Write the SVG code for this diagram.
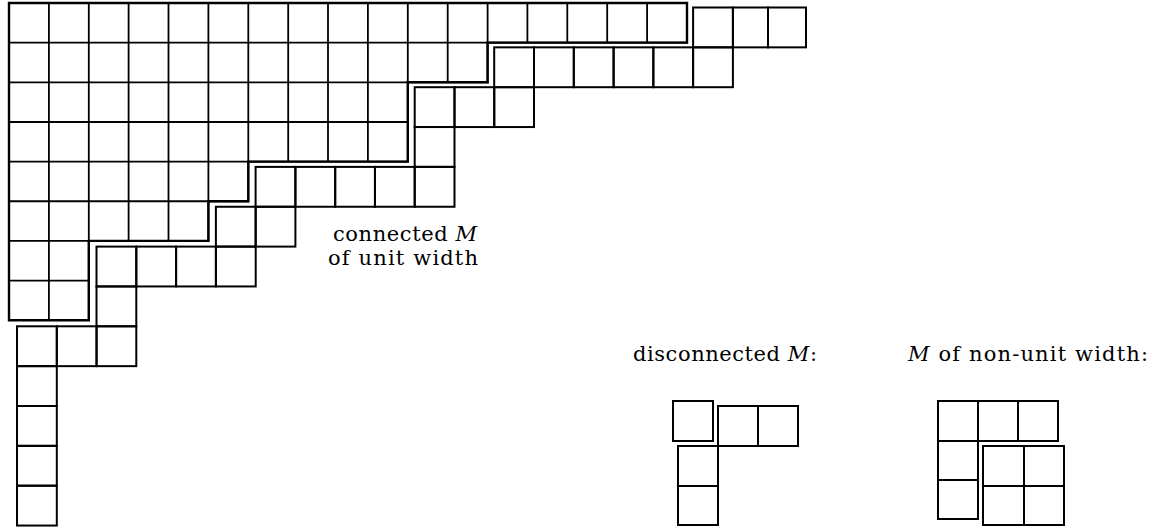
<svg xmlns="http://www.w3.org/2000/svg" width="1155" height="529" viewBox="0 0 1155 529">
<style>
.g{fill:none;stroke:#000;stroke-width:1.8;stroke-linecap:square}
.o{fill:none;stroke:#000;stroke-width:2.4;stroke-linejoin:miter}
.c{fill:none;stroke:#000;stroke-width:2}
.t{font-family:"DejaVu Serif","Liberation Serif",serif;font-size:21px;fill:#000}
</style>
<rect width="1155" height="529" fill="#fff"/>
<g id="shape-large">
<path class="g" d="M9 3H687M9 42.65H687M9 82.3H487.6M9 122H407.8M9 161.6H407.8M9 201.25H248.3M9 240.9H208.4M9 280.55H88.8M9 320.2H88.8
M9 3V320.2M48.9 3V320.2M88.8 3V320.2M128.6 3V240.9M168.5 3V240.9M208.4 3V240.9M248.3 3V201.25M288.2 3V161.6M328 3V161.6M367.9 3V161.6M407.8 3V161.6M447.7 3V82.3M487.6 3V82.3M527.4 3V42.65M567.3 3V42.65M607.2 3V42.65M647.1 3V42.65M687 3V42.65"/>
<path class="o" d="M9 3H687V42.65H487.6V82.3H407.8V161.6H248.3V201.25H208.4V240.9H88.8V320.2H9Z"/>
</g>
<g id="strip-unit-width">
<rect class="c" x="693.1" y="7.5" width="39.8" height="39.85"/>
<rect class="c" x="732.9" y="7.5" width="35.1" height="39.85"/>
<rect class="c" x="768" y="7.5" width="38" height="39.85"/>
<rect class="c" x="494.2" y="47.35" width="39.8" height="39.85"/>
<rect class="c" x="534" y="47.35" width="39.8" height="39.85"/>
<rect class="c" x="573.8" y="47.35" width="39.8" height="39.85"/>
<rect class="c" x="613.6" y="47.35" width="39.8" height="39.85"/>
<rect class="c" x="653.3" y="47.35" width="39.8" height="39.85"/>
<rect class="c" x="693.1" y="47.35" width="39.8" height="39.85"/>
<rect class="c" x="414.7" y="87.2" width="39.8" height="39.85"/>
<rect class="c" x="454.5" y="87.2" width="39.8" height="39.85"/>
<rect class="c" x="494.2" y="87.2" width="39.8" height="39.85"/>
<rect class="c" x="414.7" y="127" width="39.8" height="39.85"/>
<rect class="c" x="255.6" y="166.9" width="39.8" height="39.85"/>
<rect class="c" x="295.4" y="166.9" width="39.8" height="39.85"/>
<rect class="c" x="335.2" y="166.9" width="39.8" height="39.85"/>
<rect class="c" x="374.9" y="166.9" width="39.8" height="39.85"/>
<rect class="c" x="414.7" y="166.9" width="39.8" height="39.85"/>
<rect class="c" x="215.9" y="206.75" width="39.8" height="39.85"/>
<rect class="c" x="255.6" y="206.75" width="39.8" height="39.85"/>
<rect class="c" x="96.5" y="246.6" width="39.8" height="39.85"/>
<rect class="c" x="136.3" y="246.6" width="39.8" height="39.85"/>
<rect class="c" x="176.1" y="246.6" width="39.8" height="39.85"/>
<rect class="c" x="215.9" y="246.6" width="39.8" height="39.85"/>
<rect class="c" x="96.5" y="286.45" width="39.8" height="39.85"/>
<rect class="c" x="17" y="326.3" width="39.8" height="39.85"/>
<rect class="c" x="56.8" y="326.3" width="39.8" height="39.85"/>
<rect class="c" x="96.5" y="326.3" width="39.8" height="39.85"/>
<rect class="c" x="17" y="366.15" width="39.8" height="39.85"/>
<rect class="c" x="17" y="406" width="39.8" height="39.85"/>
<rect class="c" x="17" y="445.85" width="39.8" height="39.85"/>
<rect class="c" x="17" y="485.7" width="39.8" height="39.85"/>
</g>
<g id="label-connected">
<text class="t" x="333" y="241" textLength="144">connected <tspan font-style="italic">M</tspan></text>
<text class="t" x="328" y="265" textLength="150">of unit width</text>
</g>
<g id="label-disconnected">
<text class="t" x="633" y="361" textLength="184">disconnected <tspan font-style="italic">M</tspan>:</text>
</g>
<g id="example-disconnected">
<rect class="c" x="673" y="401" width="40" height="40"/>
<rect class="c" x="718" y="406" width="40" height="40"/>
<rect class="c" x="758" y="406" width="40" height="40"/>
<rect class="c" x="678" y="446" width="40" height="40"/>
<rect class="c" x="678" y="486" width="40" height="39"/>
</g>
<g id="label-nonunit">
<text class="t" x="908" y="361" textLength="240"><tspan font-style="italic">M</tspan> of non-unit width:</text>
</g>
<g id="example-nonunit">
<rect class="c" x="938" y="401" width="40" height="40"/>
<rect class="c" x="978" y="401" width="40" height="40"/>
<rect class="c" x="1018" y="401" width="40" height="40"/>
<rect class="c" x="938" y="441" width="40" height="39"/>
<rect class="c" x="938" y="480" width="40" height="39"/>
<rect class="c" x="983" y="446" width="41" height="40"/>
<rect class="c" x="1024" y="446" width="40" height="40"/>
<rect class="c" x="983" y="486" width="41" height="39"/>
<rect class="c" x="1024" y="486" width="40" height="39"/>
</g>
</svg>
